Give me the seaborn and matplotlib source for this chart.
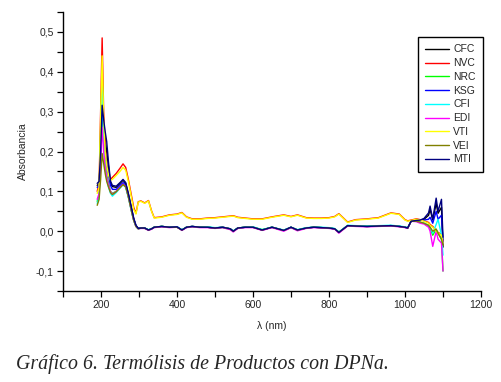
import numpy as np
import pandas as pd
import matplotlib
matplotlib.use("Agg")
import matplotlib.pyplot as plt
import seaborn as sns
from matplotlib.ticker import MultipleLocator, FuncFormatter

sns.set_style("ticks")
plt.rcParams['font.family'] = ['Liberation Sans', 'DejaVu Sans']

wavelength = [190, 195, 199, 203, 207, 211, 215, 220, 225, 230, 240, 250, 258, 265, 272, 280, 286, 292,
              298, 305, 315, 325, 333, 340, 360, 380, 400, 413, 425, 440, 460, 480, 500, 520, 540, 548, 560, 580,
              600, 624, 650, 681, 700, 717, 740, 760, 780, 800, 815, 826, 849, 870, 900, 930, 963, 985, 1000, 1007,
              1016, 1030, 1040, 1050, 1062, 1066, 1073, 1082, 1087, 1096, 1100]

CFC = [0.115, 0.12, 0.19, 0.30, 0.26, 0.23, 0.20, 0.16, 0.12, 0.112, 0.11, 0.12, 0.128, 0.12, 0.093, 0.058, 0.032, 0.014,
       0.007, 0.008, 0.008, 0.003, 0.006, 0.010, 0.012, 0.010, 0.011, 0.003, 0.010, 0.012, 0.010, 0.010, 0.008, 0.010, 0.006, 0.000, 0.008, 0.010,
       0.010, 0.003, 0.010, 0.002, 0.010, 0.003, 0.008, 0.010, 0.009, 0.008, 0.006, -0.003, 0.014, 0.013, 0.012, 0.013, 0.014, 0.012, 0.010, 0.008,
       0.025, 0.027, 0.028, 0.030, 0.040, 0.055, 0.028, 0.070, 0.045, 0.060, -0.040]
NVC = [0.10, 0.12, 0.30, 0.485, 0.30, 0.21, 0.17, 0.14, 0.13, 0.135, 0.145, 0.158, 0.169, 0.16, 0.13, 0.09, 0.06, 0.045,
       0.074, 0.076, 0.071, 0.077, 0.051, 0.034, 0.036, 0.041, 0.043, 0.047, 0.036, 0.031, 0.031, 0.033, 0.034, 0.036, 0.038, 0.039, 0.035, 0.033,
       0.031, 0.031, 0.036, 0.041, 0.037, 0.041, 0.034, 0.033, 0.033, 0.034, 0.037, 0.044, 0.023, 0.029, 0.031, 0.034, 0.046, 0.043, 0.029, 0.026,
       0.028, 0.031, 0.029, 0.026, 0.022, 0.017, 0.012, 0.002, -0.003, -0.008, -0.025]
NRC = [0.075, 0.09, 0.25, 0.40, 0.24, 0.17, 0.14, 0.12, 0.10, 0.095, 0.10, 0.11, 0.118, 0.112, 0.086, 0.052, 0.028, 0.012,
       0.006, 0.008, 0.007, 0.003, 0.006, 0.010, 0.012, 0.010, 0.010, 0.003, 0.010, 0.011, 0.010, 0.010, 0.008, 0.009, 0.005, 0.000, 0.008, 0.010,
       0.010, 0.004, 0.010, 0.002, 0.009, 0.003, 0.008, 0.010, 0.009, 0.008, 0.006, -0.002, 0.013, 0.013, 0.012, 0.013, 0.014, 0.012, 0.010, 0.008,
       0.025, 0.025, 0.022, 0.020, 0.012, 0.008, -0.010, 0.005, -0.005, -0.020, -0.100]
KSG = [0.11, 0.115, 0.20, 0.33, 0.25, 0.20, 0.17, 0.14, 0.115, 0.105, 0.105, 0.115, 0.122, 0.116, 0.09, 0.056, 0.03, 0.013,
       0.007, 0.008, 0.008, 0.003, 0.006, 0.010, 0.012, 0.010, 0.011, 0.003, 0.010, 0.012, 0.010, 0.010, 0.008, 0.010, 0.006, 0.000, 0.008, 0.010,
       0.010, 0.003, 0.010, 0.002, 0.010, 0.003, 0.008, 0.010, 0.009, 0.008, 0.006, -0.003, 0.014, 0.013, 0.012, 0.013, 0.014, 0.012, 0.010, 0.008,
       0.025, 0.026, 0.027, 0.028, 0.030, 0.035, 0.020, 0.050, 0.030, 0.040, -0.030]
CFI = [0.07, 0.085, 0.22, 0.37, 0.22, 0.16, 0.13, 0.11, 0.095, 0.088, 0.097, 0.108, 0.117, 0.11, 0.085, 0.05, 0.027, 0.012,
       0.006, 0.008, 0.008, 0.004, 0.006, 0.010, 0.012, 0.010, 0.011, 0.004, 0.010, 0.012, 0.010, 0.011, 0.009, 0.010, 0.006, 0.001, 0.008, 0.010,
       0.011, 0.004, 0.010, 0.003, 0.010, 0.004, 0.009, 0.010, 0.010, 0.009, 0.007, -0.002, 0.015, 0.014, 0.013, 0.014, 0.015, 0.013, 0.011, 0.009,
       0.025, 0.025, 0.022, 0.020, 0.015, 0.010, -0.005, 0.017, 0.030, -0.010, -0.060]
EDI = [0.08, 0.095, 0.18, 0.26, 0.20, 0.16, 0.135, 0.115, 0.10, 0.093, 0.10, 0.11, 0.118, 0.112, 0.087, 0.052, 0.028, 0.012,
       0.006, 0.007, 0.007, 0.002, 0.005, 0.009, 0.011, 0.009, 0.010, 0.002, 0.009, 0.011, 0.009, 0.009, 0.007, 0.009, 0.004, -0.002, 0.007, 0.009,
       0.009, 0.002, 0.009, 0.000, 0.009, 0.001, 0.007, 0.009, 0.008, 0.007, 0.005, -0.005, 0.013, 0.012, 0.011, 0.012, 0.013, 0.011, 0.009, 0.007,
       0.025, 0.024, 0.020, 0.018, 0.010, 0.000, -0.038, 0.000, -0.020, -0.030, -0.100]
VTI = [0.095, 0.11, 0.28, 0.44, 0.28, 0.20, 0.165, 0.14, 0.128, 0.13, 0.14, 0.15, 0.16, 0.153, 0.125, 0.085, 0.055, 0.043,
       0.073, 0.075, 0.070, 0.076, 0.050, 0.033, 0.035, 0.040, 0.042, 0.046, 0.035, 0.030, 0.030, 0.032, 0.033, 0.035, 0.037, 0.038, 0.034, 0.032,
       0.030, 0.030, 0.035, 0.040, 0.036, 0.040, 0.033, 0.032, 0.032, 0.033, 0.036, 0.043, 0.022, 0.028, 0.030, 0.033, 0.045, 0.042, 0.028, 0.025,
       0.027, 0.030, 0.028, 0.025, 0.020, 0.015, 0.010, 0.000, -0.005, -0.010, -0.030]
VEI = [0.065, 0.08, 0.13, 0.195, 0.17, 0.145, 0.125, 0.11, 0.097, 0.092, 0.099, 0.109, 0.117, 0.111, 0.086, 0.051, 0.027, 0.012,
       0.006, 0.008, 0.008, 0.003, 0.006, 0.010, 0.012, 0.010, 0.010, 0.003, 0.010, 0.012, 0.010, 0.010, 0.008, 0.010, 0.006, 0.000, 0.008, 0.010,
       0.010, 0.003, 0.010, 0.002, 0.010, 0.003, 0.008, 0.010, 0.009, 0.008, 0.006, -0.003, 0.014, 0.013, 0.012, 0.013, 0.014, 0.012, 0.010, 0.008,
       0.025, 0.025, 0.023, 0.020, 0.015, 0.010, 0.000, 0.005, -0.005, -0.020, -0.035]
MTI = [0.12, 0.125, 0.20, 0.316, 0.28, 0.25, 0.225, 0.17, 0.126, 0.115, 0.113, 0.122, 0.13, 0.122, 0.095, 0.06, 0.033, 0.015,
       0.007, 0.008, 0.008, 0.003, 0.006, 0.010, 0.012, 0.010, 0.011, 0.003, 0.010, 0.012, 0.010, 0.010, 0.008, 0.010, 0.006, 0.000, 0.008, 0.010,
       0.010, 0.003, 0.010, 0.002, 0.010, 0.003, 0.008, 0.010, 0.009, 0.008, 0.006, -0.003, 0.014, 0.013, 0.012, 0.013, 0.014, 0.012, 0.010, 0.008,
       0.025, 0.027, 0.028, 0.032, 0.046, 0.063, 0.030, 0.083, 0.050, 0.080, -0.015]

series_names = ["CFC", "NVC", "NRC", "KSG", "CFI", "EDI", "VTI", "VEI", "MTI"]
series_values = [CFC, NVC, NRC, KSG, CFI, EDI, VTI, VEI, MTI]
series_colors = ["#000000", "#ff0000", "#00ff00", "#0000ff", "#00ffff", "#ff00ff", "#ffff00", "#808000", "#000080"]

x_ticks = [200, 400, 600, 800, 1000, 1200]
y_ticks = [-0.1, 0.0, 0.1, 0.2, 0.3, 0.4, 0.5]

frames = []
for name, vals in zip(series_names, series_values):
    frames.append(pd.DataFrame({"wl": wavelength, "abs": vals, "serie": name}))
df = pd.concat(frames, ignore_index=True)

fig = plt.figure(figsize=(5.02, 3.82), dpi=100)
ax = fig.add_axes([63 / 502, 91 / 382, 418 / 502, 279 / 382])

sns.lineplot(data=df, x="wl", y="abs", hue="serie", hue_order=series_names,
             palette=dict(zip(series_names, series_colors)), estimator=None, sort=False,
             linewidth=1.0, ax=ax)

ax.set_xlim(100, 1200)
ax.set_ylim(-0.15, 0.55)
ax.set_xticks(x_ticks)
ax.set_yticks(y_ticks)
ax.xaxis.set_minor_locator(MultipleLocator(100))
ax.yaxis.set_minor_locator(MultipleLocator(0.05))
ax.yaxis.set_major_formatter(FuncFormatter(lambda v, p: ("%.1f" % v).replace(".", ",").replace("-0,0", "0,0")))
ax.tick_params(which="both", direction="out", length=4, width=0.9, labelsize=7.5, color="black", pad=2.5)
for s in ["top", "right"]:
    ax.spines[s].set_visible(False)
for s in ["left", "bottom"]:
    ax.spines[s].set_linewidth(1.0)
    ax.spines[s].set_color("black")

ax.set_xlabel("λ (nm)", fontsize=7.5, labelpad=8)
ax.set_ylabel("Absorbancia", fontsize=7.5, labelpad=6)

handles, labels = ax.get_legend_handles_labels()
leg = ax.legend(handles, labels, loc="upper right", bbox_to_anchor=(1.005, 0.91), borderaxespad=0,
                fontsize=7.5, frameon=True, fancybox=False, edgecolor="black", framealpha=1,
                handlelength=2.3, handletextpad=0.4, labelspacing=0.36, borderpad=0.7)
leg.get_frame().set_linewidth(1.0)
for line in leg.get_lines():
    line.set_linewidth(1.0)

fig.text(0.032, 0.035, "Gráfico 6. Termólisis de Productos con DPNa.", family="Liberation Serif",
         style="italic", fontsize=14.3)

fig.savefig("out.png", dpi=100)
